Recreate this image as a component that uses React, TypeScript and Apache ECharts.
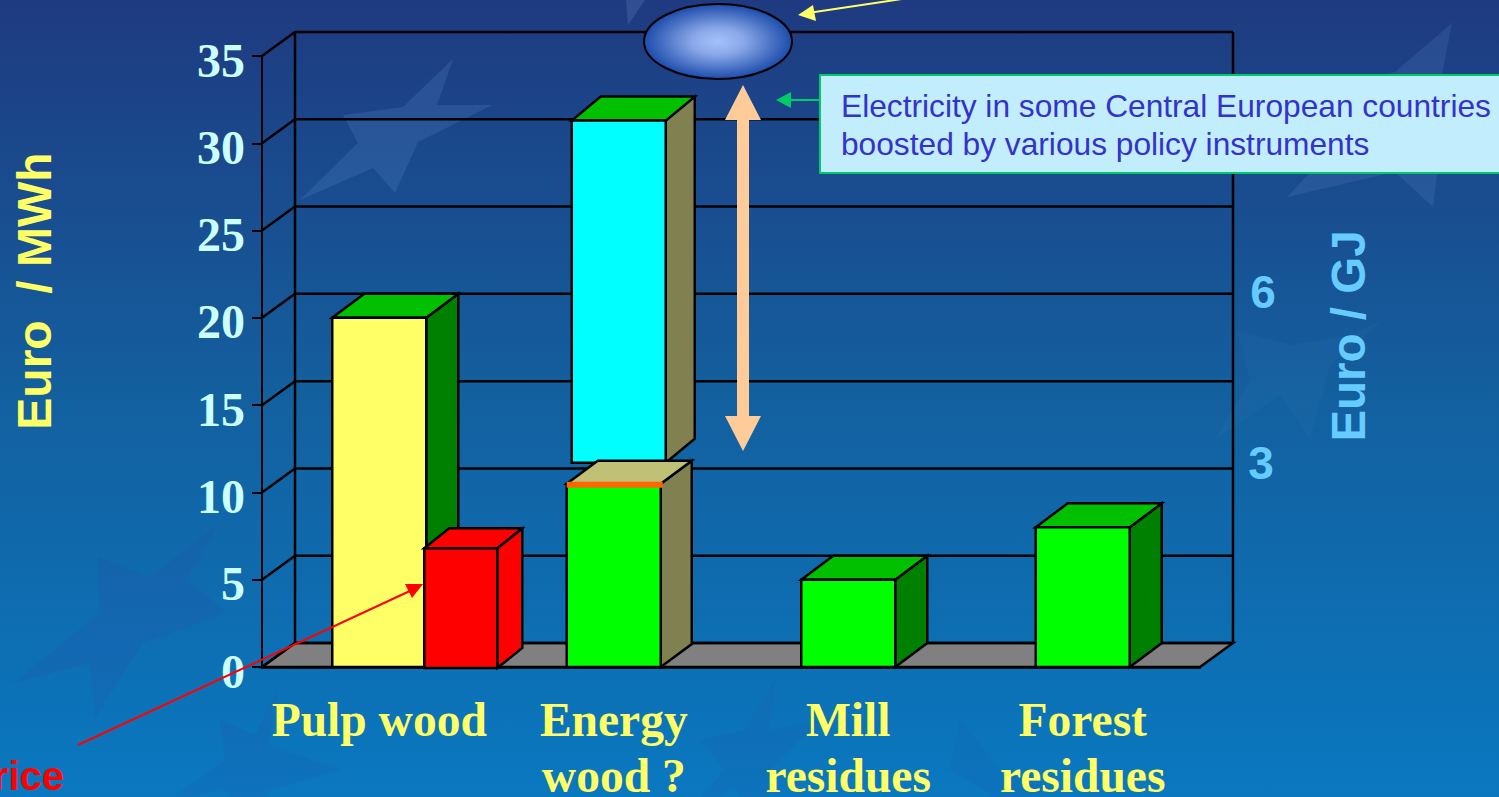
import React, { useEffect, useRef } from "react";
import * as echarts from "echarts";

const categories = ["Pulp wood", "Energy\nwood ?", "Mill\nresidues", "Forest\nresidues"];
const yTicks = [0, 5, 10, 15, 20, 25, 30, 35];
// [low, high] per category, null where the category has no such bar
const pulpYellow = [[0, 20], null, null, null];
const marketRed = [[0, 6.8], null, null, null];
const energyCyan = [null, [11.7, 31.3], null, null];
const energyGreen = [null, [0, 10.5], null, null];
const residuesGreen = [null, null, [0, 5], [0, 8]];

const rightTicks = ["6", "3"];
const boxLines = "Electricity in some Central European countries\nboosted by various policy instruments";

const SERIF = '"Liberation Serif", serif';
const SANS = '"Liberation Sans", sans-serif';
const DEPTH_X = 33;
const DEPTH_Y = 24;
const LW = 2.5;

function barSeries(name: string, rows: any[], s: any) {
  const data = rows.flatMap((r, i) => (r ? [[i, r[0], r[1]]] : []));
  return {
    type: "custom",
    name,
    z: s.z ?? 5,
    clip: false,
    encode: { x: 0, y: [1, 2] },
    data,
    silent: true,
    renderItem: (_: any, api: any) => {
      const idx = api.value(0);
      const lo = api.coord([idx, api.value(1)]);
      const hi = api.coord([idx, api.value(2)]);
      const c = lo[0] + (s.offset ?? 0);
      const x0 = c - s.width / 2;
      const x1 = c + s.width / 2;
      const yb = lo[1] + (s.dropBase ?? 0);
      const yt = hi[1];
      const dx = s.dx;
      const dy = s.dy;
      const line = { stroke: "#000", lineWidth: LW, lineJoin: "miter" };
      const children: any[] = [
        { type: "polygon", shape: { points: [[x1, yb], [x1 + dx, yb - dy], [x1 + dx, yt - dy], [x1, yt]] }, style: { fill: s.side, ...line } },
        { type: "polygon", shape: { points: [[x0, yt], [x0 + dx, yt - dy], [x1 + dx, yt - dy], [x1, yt]] }, style: { fill: s.top, ...line } },
        { type: "polygon", shape: { points: [[x0, yb], [x0, yt], [x1, yt], [x1, yb]] }, style: { fill: s.front, ...line } },
      ];
      if (s.rim) {
        children.push({ type: "rect", shape: { x: x0, y: yt - 2, width: s.width + 2, height: 6 }, style: { fill: s.rim } });
      }
      return { type: "group", children };
    },
  };
}

const wallSeries = {
  type: "custom",
  name: "walls",
  z: 1,
  clip: false,
  silent: true,
  encode: { y: 0 },
  data: yTicks.map((v) => [v]),
  renderItem: (params: any, api: any) => {
    const cs = params.coordSys;
    const v = api.value(0);
    const y = api.coord([0, v])[1];
    const l = cs.x;
    const r = cs.x + cs.width;
    const line = { stroke: "#000", lineWidth: LW, fill: "none" };
    const kids: any[] = [];
    if (v === 0) {
      kids.push({ type: "polygon", shape: { points: [[l, y], [l + DEPTH_X, y - DEPTH_Y], [r + DEPTH_X, y - DEPTH_Y], [r, y]] }, style: { fill: "#808080", stroke: "#000", lineWidth: LW } });
    }
    if (v === 35) {
      const y0 = api.coord([0, 0])[1];
      kids.push({ type: "line", shape: { x1: l + DEPTH_X, y1: y0 - DEPTH_Y, x2: l + DEPTH_X, y2: y - DEPTH_Y }, style: line });
      kids.push({ type: "line", shape: { x1: r + DEPTH_X, y1: y0 - DEPTH_Y, x2: r + DEPTH_X, y2: y - DEPTH_Y }, style: line });
    }
    kids.push({ type: "polyline", shape: { points: [[l, y], [l + DEPTH_X, y - DEPTH_Y], [r + DEPTH_X, y - DEPTH_Y]] }, style: line });
    return { type: "group", children: kids };
  },
};

function star(points: number[][], fill: string, opacity: number) {
  return { type: "polygon", z: -10, silent: true, shape: { points }, style: { fill, opacity } };
}

export default function App() {
  const ref = useRef<HTMLDivElement>(null);
  useEffect(() => {
    const chart = echarts.init(ref.current!, null, { renderer: "svg" });
    const over = 100;
    chart.setOption({
      animation: false,
      backgroundColor: new echarts.graphic.LinearGradient(0, 0, 0, 1, [
        { offset: 0, color: "#1f3a80" },
        { offset: 0.5, color: "#13609f" },
        { offset: 1, color: "#0a78c0" },
      ]),
      grid: { left: 262, right: 299, top: 56, bottom: 130, outerBoundsMode: "none" },
      xAxis: {
        type: "category",
        data: categories,
        boundaryGap: true,
        axisLine: { lineStyle: { color: "#000", width: LW } },
        axisTick: { length: 10, alignWithLabel: false, lineStyle: { color: "#000", width: 2 } },
        axisLabel: {
          interval: 0,
          margin: 25,
          color: "#ffff66",
          fontFamily: SERIF,
          fontWeight: "bold",
          fontSize: 47.5,
          lineHeight: 56,
        },
      },
      yAxis: {
        type: "value",
        min: 0,
        max: 35,
        interval: 5,
        splitLine: { show: false },
        axisLine: { show: true, lineStyle: { color: "#000", width: 2 } },
        axisTick: { show: true, length: 10, lineStyle: { color: "#000", width: 2 } },
        axisLabel: {
          margin: 17,
          color: "#ccffff",
          fontFamily: SERIF,
          fontWeight: "bold",
          fontSize: 48,
          verticalAlign: "top",
          lineHeight: 8,
        },
      },
      series: [
        wallSeries,
        barSeries("Pulp wood", pulpYellow, { width: 94, dx: 32, dy: 24, front: "#ffff66", top: "#00c000", side: "#008000", z: 5 }),
        barSeries("Market price", marketRed, { width: 73, offset: 81.5, dx: 25, dy: 20, front: "#ff0000", top: "#ff0000", side: "#ff0000", dropBase: 1, z: 6 }),
        barSeries("Energy upper", energyCyan, { width: 94, offset: 5, dx: 29, dy: 24, front: "#00ffff", top: "#00c000", side: "#808050", z: 5 }),
        barSeries("Energy wood", energyGreen, { width: 94, dx: 31, dy: 23, front: "#00ff00", top: "#c0c077", side: "#808050", rim: "#ff6600", z: 6 }),
        barSeries("Residues", residuesGreen, { width: 94, dx: 32, dy: 24, front: "#00ff00", top: "#00c000", side: "#008000", z: 5 }),
      ],
      graphic: [
        star([[453, 59], [437, 105], [492, 105], [418, 142], [395, 193], [373, 168], [300, 200], [358, 143], [343, 115], [403, 107]], "#6f9fe0", 0.17),
        star([[217, 525], [187, 580], [227, 612], [143, 643], [95, 718], [90, 663], [13, 683], [100, 613], [98, 557], [150, 577]], "#2a50a8", 0.2),
        star([[1452, 23], [1440, 85], [1510, 115], [1440, 150], [1433, 207], [1395, 172], [1287, 197], [1340, 140], [1320, 90], [1395, 72]], "#6f9fe0", 0.15),
        star([[1383, 320], [1330, 365], [1310, 440], [1280, 395], [1215, 440], [1250, 380], [1237, 330], [1290, 345], [1350, 335]], "#6f9fe0", 0.05),
        star([[278, 690], [268, 745], [340, 770], [270, 790], [250, 830], [225, 790], [170, 800], [225, 760], [220, 720], [255, 735]], "#2a50a8", 0.14),
        star([[775, 680], [770, 730], [820, 720], [770, 770], [770, 820], [735, 790], [690, 810], [725, 770], [700, 740], [745, 730]], "#2a50a8", 0.12),
        star([[1060, 790], [1000, 770], [960, 720], [950, 770], [1000, 800]], "#2a50a8", 0.1),
        star([[628, 25], [626, 0], [645, 0]], "#9fc0f0", 0.15),
        {
          type: "ellipse",
          z: over,
          silent: true,
          shape: { cx: 718, cy: 41.5, rx: 74, ry: 37.5 },
          style: {
            stroke: "#000",
            lineWidth: 2,
            fill: new echarts.graphic.RadialGradient(0.5, 0.5, 0.5, [
              { offset: 0, color: "#a2c2fb" },
              { offset: 0.35, color: "#8aa8e8" },
              { offset: 1, color: "#1c4cac" },
            ]),
          },
        },
        { type: "line", z: over, silent: true, shape: { x1: 922, y1: -4, x2: 808, y2: 13 }, style: { stroke: "#ffff66", lineWidth: 2 } },
        { type: "polygon", z: over, silent: true, shape: { points: [[798, 15], [813, 5], [816, 21]] }, style: { fill: "#ffff66" } },
        {
          type: "polygon",
          z: over,
          silent: true,
          shape: {
            points: [[743, 85], [761, 120], [749, 120], [749, 416], [761, 416], [743, 451], [725, 416], [737, 416], [737, 120], [725, 120]],
          },
          style: { fill: "#ffcc99" },
        },
        { type: "line", z: over, silent: true, shape: { x1: 820, y1: 100, x2: 788, y2: 100 }, style: { stroke: "#00cc66", lineWidth: 2 } },
        { type: "polygon", z: over, silent: true, shape: { points: [[776, 100], [791, 92], [791, 108]] }, style: { fill: "#00cc66" } },
        { type: "rect", z: over, silent: true, shape: { x: 820, y: 75, width: 700, height: 98 }, style: { fill: "#c2edfd", stroke: "#00cc66", lineWidth: 2 } },
        {
          type: "text",
          z: over + 1,
          silent: true,
          x: 841,
          y: 87,
          style: { text: boxLines, fill: "#3333cc", font: `31.7px ${SANS}`, lineHeight: 38, verticalAlign: "top" },
        },
        {
          type: "text",
          z: over,
          silent: true,
          x: 34,
          y: 291,
          rotation: Math.PI / 2,
          style: { text: "Euro  / MWh", fill: "#ffff66", font: `bold 48px ${SANS}`, align: "center", verticalAlign: "middle" },
        },
        {
          type: "text",
          z: over,
          silent: true,
          x: 1348,
          y: 336,
          rotation: Math.PI / 2,
          style: { text: "Euro / GJ", fill: "#66ccff", font: `bold 47.5px ${SANS}`, align: "center", verticalAlign: "middle" },
        },
        { type: "text", z: over, silent: true, x: 1263, y: 292, style: { text: rightTicks[0], fill: "#66ccff", font: `bold 46px ${SANS}`, align: "center", verticalAlign: "middle" } },
        { type: "text", z: over, silent: true, x: 1261, y: 463, style: { text: rightTicks[1], fill: "#66ccff", font: `bold 46px ${SANS}`, align: "center", verticalAlign: "middle" } },
        { type: "text", z: over, silent: true, x: 64, y: 776, style: { text: "rice", fill: "#ff0000", font: `bold 40px ${SANS}`, align: "right", verticalAlign: "middle" } },
        { type: "line", z: over + 2, silent: true, shape: { x1: 78, y1: 745, x2: 412, y2: 590 }, style: { stroke: "#ff0000", lineWidth: 2 } },
        { type: "polygon", z: over + 2, silent: true, shape: { points: [[423, 584], [405, 584], [412, 598]] }, style: { fill: "#ff0000" } },
      ],
    });
    return () => chart.dispose();
  }, []);
  return <div ref={ref} style={{ position: "fixed", left: 0, top: 0, width: 1499, height: 797 }} />;
}
